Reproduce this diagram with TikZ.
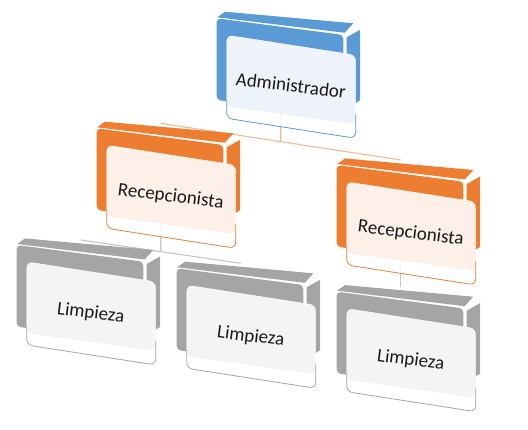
\documentclass[tikz,border=0pt]{standalone}
\usepackage{fontspec}
\setmainfont{Carlito}
\usepackage{xcolor}
\usepackage{tikz}
\usetikzlibrary{calc}
\usetikzlibrary{backgrounds}

\definecolor{admblue}{HTML}{5B9BD5}
\definecolor{admtint}{HTML}{EEF3FA}
\definecolor{recorange}{HTML}{ED7D31}
\definecolor{rectint}{HTML}{FCF0E9}
\definecolor{limgray}{HTML}{A5A5A5}
\definecolor{limtint}{HTML}{F4F4F4}

\tikzset{
	pics/orgbox/.style n args={3}{code={
		\fill[#1] (0.5,-1) -- (8.3,-6.6) -- (136.6,5) -- (128,14.5) -- cycle;
		\fill[#1] (130,19) -- (143.3,11.5) -- (143.3,82) -- (130,90) -- cycle;
		\fill[#1,rounded corners=4pt] (0,0) -- (126.6,16.7) -- (126.6,98) -- (0,81.7) -- cycle;
		\fill[white,opacity=.85,rounded corners=6pt] (10,16.7) -- (139,36.7) -- (139,120) -- (10,100) -- cycle;
		\fill[#2,rounded corners=6pt] (10,16.7) -- (139,36.7) -- (139,106) -- (10,88) -- cycle;
		\draw[#1,line width=.8pt,rounded corners=6pt] (10,82) -- (10,100) -- (139,120) -- (139,96);
		\coordinate (-top) at (64,-5);
		\coordinate (-bot) at (64,95);
		\node[boxtext] (-txt) at (74,69) {#3};
	}},
	boxtext/.style={rotate=-7,text height=13pt,text depth=4pt,inner sep=0pt,font=\fontsize{19}{21}\selectfont,text=black!90},
	admlink/.style={draw=recorange!55,line width=1.1pt},
	reclink/.style={draw=limgray!65,line width=1.1pt}
}

\begin{document}
\begin{tikzpicture}[x=1pt,y=-1pt]
	\useasboundingbox (0,0) rectangle (528,430);
	\pic (adm) at (216.7,18.3) {orgbox={admblue}{admtint}{Administrador}};
	\pic (rcl) at (96.7,128.3) {orgbox={recorange}{rectint}{Recepcionista}};
	\pic (rcr) at (336.7,165) {orgbox={recorange}{rectint}{Recepcionista}};
	\pic (lml) at (16.7,245) {orgbox={limgray}{limtint}{Limpieza}};
	\pic (lmm) at (176.7,268.3) {orgbox={limgray}{limtint}{Limpieza}};
	\pic (lmr) at (336.7,291.7) {orgbox={limgray}{limtint}{Limpieza}};
	% links behind the boxes
	\begin{scope}[on background layer]
		\coordinate (admjoin) at ($(rcl-top)!.5!(rcr-top)$);
		\coordinate (rcljoin) at ($(lml-top)!.5!(lmm-top)$);
		\draw[admlink] (rcl-top) -- (rcr-top);
		\draw[admlink] (adm-bot) -- (admjoin);
		\draw[reclink] (lml-top) -- (lmm-top);
		\draw[reclink] (rcl-bot) -- (rcljoin);
		\draw[reclink] (rcr-bot) -- (lmr-top);
	\end{scope}
\end{tikzpicture}
\end{document}
